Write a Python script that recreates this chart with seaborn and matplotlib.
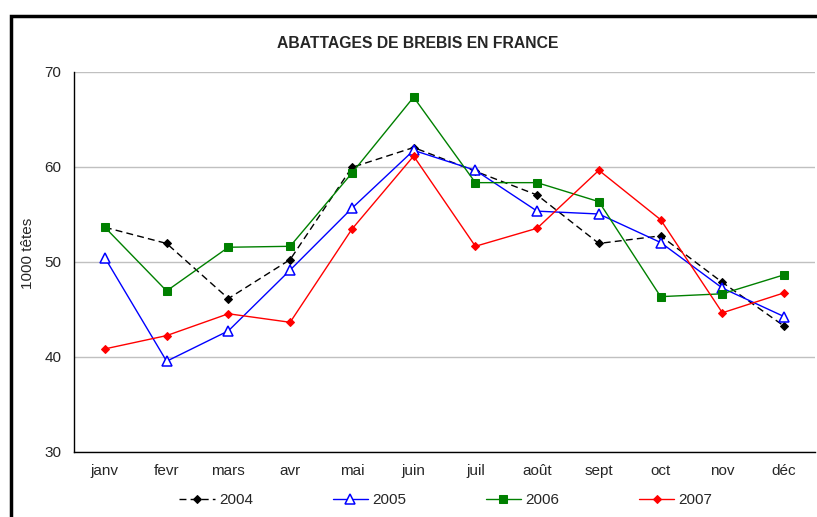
import numpy as np
import pandas as pd
import matplotlib
matplotlib.use("Agg")
import matplotlib.pyplot as plt
import matplotlib.patches as patches
import seaborn as sns

# données (milliers de têtes)
mois = ['janv', 'fevr', 'mars', 'avr', 'mai', 'juin', 'juil', 'août', 'sept', 'oct', 'nov', 'déc']
annees = ['2004', '2005', '2006', '2007']
v2004 = [53.6, 51.9, 46.1, 50.2, 59.9, 62.0, 59.5, 57.0, 51.9, 52.7, 47.8, 43.2]
v2005 = [50.4, 39.5, 42.7, 49.1, 55.6, 61.7, 59.6, 55.3, 55.0, 52.0, 47.2, 44.2]
v2006 = [53.6, 46.9, 51.5, 51.6, 59.3, 67.3, 58.3, 58.3, 56.3, 46.3, 46.6, 48.6]
v2007 = [40.8, 42.2, 44.5, 43.6, 53.4, 61.1, 51.6, 53.5, 59.6, 54.4, 44.6, 46.7]

df = pd.DataFrame({'mois': mois, '2004': v2004, '2005': v2005, '2006': v2006, '2007': v2007})
df['pos'] = np.arange(len(mois))

styles = {
    '2004': dict(color='black', marker='D', markersize=4, linestyle=(0, (5, 3)),
                 markerfacecolor='black', markeredgecolor='black'),
    '2005': dict(color='#0000ff', marker='^', markersize=7, linestyle='-',
                 markerfacecolor='white', markeredgecolor='#0000ff', markeredgewidth=1.1),
    '2006': dict(color='#008000', marker='s', markersize=5.5, linestyle='-',
                 markerfacecolor='#008000', markeredgecolor='#008000'),
    '2007': dict(color='#ff0000', marker='D', markersize=4.5, linestyle='-',
                 markerfacecolor='#ff0000', markeredgecolor='#ff0000'),
}

sns.set_style("white")
plt.rcParams['font.family'] = ['Liberation Sans', 'DejaVu Sans']

W, H = 817, 517
fig = plt.figure(figsize=(W / 100, H / 100), dpi=100)
ax = fig.add_axes([74 / W, (H - 451.5) / H, (815 - 74) / W, (451.5 - 71.5) / H])

for an in annees:
    sns.lineplot(data=df, x='pos', y=an, ax=ax, label=an, sort=False, linewidth=1, **styles[an])

ax.set_xlim(-0.5, len(mois) - 0.5)
ax.set_ylim(30, 70)
ax.set_yticks([30, 40, 50, 60, 70])
ax.yaxis.grid(True, color='#c0c0c0', linewidth=1)
ax.set_axisbelow(True)

# ticks aux limites de catégories, étiquettes au centre
ax.set_xticks(np.arange(-0.5, len(mois), 1.0))
ax.set_xticklabels([])
ax.set_xticks(np.arange(len(mois)), minor=True)
ax.set_xticklabels(mois, minor=True)
ax.tick_params(axis='x', which='major', direction='out', length=4, width=1, color='black')
ax.tick_params(axis='x', which='minor', length=0, pad=9, labelsize=11)
ax.tick_params(axis='y', direction='out', length=4, width=1, color='black', pad=5, labelsize=11)

for s in ['top', 'right']:
    ax.spines[s].set_visible(False)
for s in ['left', 'bottom']:
    ax.spines[s].set_color('black')
    ax.spines[s].set_linewidth(1)

ax.set_xlabel('')
ax.set_ylabel('1000 têtes', fontsize=11)
ax.yaxis.set_label_coords(-0.052, 0.522)

fig.text(418 / W, (H - 44) / H, 'ABATTAGES DE BREBIS EN FRANCE',
         ha='center', va='center', fontsize=11.3, fontweight='bold')

handles, labels = ax.get_legend_handles_labels()
ax.get_legend().remove()
fig.legend(handles, labels, loc='center', bbox_to_anchor=(446 / W, (H - 500) / H), ncol=4,
           frameon=False, fontsize=11, handlelength=2.3, handletextpad=0.3, columnspacing=5.2)

# cadre de la zone de graphique (coupé à droite et en bas)
fig.patches.append(patches.Rectangle((10.5 / W, -0.1), 1.2, (H - 15.5) / H + 0.1,
                                     transform=fig.transFigure, fill=False,
                                     edgecolor='black', linewidth=2.5, zorder=10))

fig.savefig('out.png', dpi=100)
